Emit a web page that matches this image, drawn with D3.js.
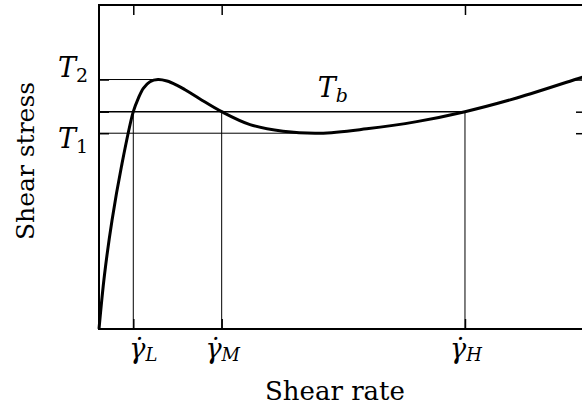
<!DOCTYPE html>
<html><head><meta charset="utf-8">
<script src="https://cdn.jsdelivr.net/npm/d3@7"></script>
<style>body{margin:0;background:#fff}svg{display:block}</style>
</head><body>
<svg id="chart" width="582" height="406"></svg>
<script>
// ---- data (arbitrary units) ----
const rateValues   = [0, 0.113, 0.267, 0.462, 0.704, 0.807, 0.910, 1.047, 1.211, 1.396, 1.595, 1.766, 2.074, 2.519, 3.101, 3.778, 4.538, 5.497, 6.524, 7.515, 8.577, 9.809, 10];
const stressValues = [0, 1.674, 3.349, 5.023, 6.707, 7.120, 7.429, 7.633, 7.701, 7.654, 7.528, 7.386, 7.099, 6.707, 6.309, 6.105, 6.043, 6.179, 6.401, 6.707, 7.130, 7.716, 7.809];
const stressNames  = ["2", "b", "1"];
const stressLevels = [7.70, 6.707, 6.043];
const stressLineEnd = [1.211, 7.515, 4.538];   // rate where each horizontal guide stops
const rateNames    = ["L", "M", "H"];
const rateLevels   = [0.704, 2.519, 7.515];
const xDomain = [0, 10], yDomain = [0, 10];

const svg = d3.select("#chart");
const x = d3.scaleLinear().domain(xDomain).range([99, 586]);
const y = d3.scaleLinear().domain(yDomain).range([329, 5]);
const serif = "'DejaVu Serif', serif";

// guide lines
const g = svg.append("g").attr("stroke", "#000");
stressLevels.forEach((v, i) => {
  g.append("line").attr("x1", x(0)).attr("x2", x(stressLineEnd[i]))
    .attr("y1", y(v)).attr("y2", y(v))
    .attr("stroke-width", i === 1 ? 1.6 : 1);
});
rateLevels.forEach(v => {
  g.append("line").attr("x1", x(v)).attr("x2", x(v))
    .attr("y1", y(0)).attr("y2", y(stressLevels[1]))
    .attr("stroke-width", 1);
});

// axes with inward ticks
const xb = d3.axisBottom(x).tickValues(rateLevels).tickSize(-10).tickFormat("");
const xt = d3.axisTop(x).tickValues(rateLevels).tickSize(-10).tickFormat("");
const yl = d3.axisLeft(y).tickValues(stressLevels).tickSize(-10).tickFormat("");
const yr = d3.axisRight(y).tickValues(stressLevels).tickSize(-10).tickFormat("");
[[xb, `translate(0,${y(0)})`], [xt, `translate(0,${y(10)})`],
 [yl, `translate(${x(0)},0)`], [yr, `translate(${x(10)},0)`]].forEach(([ax, tr]) => {
  const a = svg.append("g").attr("transform", tr).call(ax);
  a.select(".domain").remove();
  a.selectAll(".tick line").attr("stroke", "#000").attr("stroke-width", 1.5);
});

// frame
svg.append("rect").attr("x", x(0)).attr("y", y(10))
  .attr("width", x(10) - x(0)).attr("height", y(0) - y(10))
  .attr("fill", "none").attr("stroke", "#000").attr("stroke-width", 2);

// curve
const pts = rateValues.map((r, i) => [r, stressValues[i]]);
svg.append("path").datum(pts)
  .attr("d", d3.line().x(d => x(d[0])).y(d => y(d[1])).curve(d3.curveCatmullRom.alpha(0.5)))
  .attr("fill", "none").attr("stroke", "#000").attr("stroke-width", 3)
  .attr("stroke-linejoin", "round");

function mathLabel(tx, ty, anchor, main, sub, size, subSize, subDy) {
  const t = svg.append("text").attr("x", tx).attr("y", ty)
    .attr("text-anchor", anchor).attr("font-family", serif)
    .attr("font-size", size).attr("fill", "#000");
  t.append("tspan").attr("font-style", "italic").text(main);
  t.append("tspan").attr("font-size", subSize).attr("dy", subDy)
    .attr("font-style", /[0-9]/.test(sub) ? "normal" : "italic").text(sub);
  return t;
}
// stress labels
mathLabel(88, y(stressLevels[0]) - 3, "end", "T", stressNames[0], 27, 19, 5);
mathLabel(88, y(stressLevels[2]) + 15, "end", "T", stressNames[2], 27, 19, 5);
mathLabel(x(4.8), y(stressLevels[1]) - 15, "middle", "T", stressNames[1], 27, 19, 5);

// rate tick labels
const labelShift = [10, 1, 1];
rateLevels.forEach((v, i) => {
  mathLabel(x(v) + labelShift[i], 358, "middle", "\u03B3\u0307", rateNames[i], 27, 18, 3);
});

// axis titles
svg.append("text").attr("x", 335).attr("y", 400).attr("text-anchor", "middle")
  .attr("font-family", serif).attr("font-size", 26).text("Shear rate");
svg.append("text").attr("transform", "translate(34,161) rotate(-90)")
  .attr("text-anchor", "middle").attr("font-family", serif).attr("font-size", 25).text("Shear stress");
</script>
</body></html>
